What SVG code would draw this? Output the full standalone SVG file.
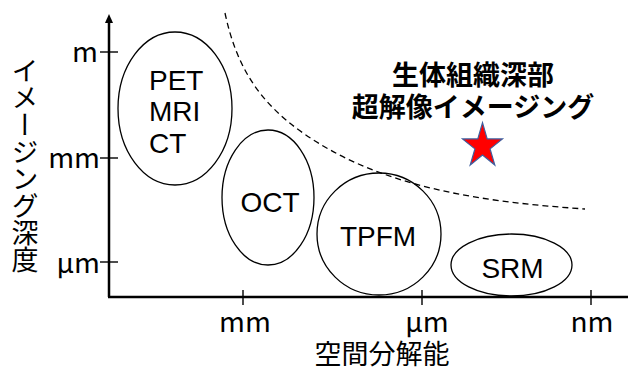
<svg xmlns="http://www.w3.org/2000/svg" width="628" height="372" viewBox="0 0 628 372">
<style>
.ax{stroke:#000;stroke-width:2.5;fill:none}
.tk{stroke:#000;stroke-width:1.4;fill:none}
.el{fill:none;stroke:#000;stroke-width:1.3}
.lab{font-family:"Liberation Sans",Arial,sans-serif;font-size:28px;fill:#000}
.tl{font-family:"Noto Sans CJK JP","Liberation Sans",sans-serif;font-size:28px;fill:#000}
.jp{font-family:"Noto Sans CJK JP",sans-serif;font-size:27px;fill:#000}
.ttl{font-family:"Noto Sans CJK JP",sans-serif;font-size:27px;font-weight:bold;fill:#000}
</style>
<rect width="628" height="372" fill="#fff"/>
<g id="axes">
<line class="ax" x1="109" y1="22" x2="109" y2="297"/>
<line class="ax" x1="108" y1="297" x2="628" y2="297"/>
<polygon points="109,14 105,23 113,23" fill="#000"/>
<line class="tk" x1="100" y1="52" x2="118" y2="52"/>
<line class="tk" x1="100" y1="158" x2="118" y2="158"/>
<line class="tk" x1="100" y1="262" x2="118" y2="262"/>
<line class="tk" x1="243" y1="290" x2="243" y2="305"/>
<line class="tk" x1="422" y1="290" x2="422" y2="305"/>
<line class="tk" x1="591" y1="290" x2="591" y2="305"/>
<text class="tl" x="98" y="62" text-anchor="end">m</text>
<text class="tl" x="100" y="168" text-anchor="end">mm</text>
<text class="tl" x="100" y="273" text-anchor="end">μm</text>
<text class="tl" x="245" y="332" text-anchor="middle">mm</text>
<text class="tl" x="427" y="332" text-anchor="middle">μm</text>
<text class="tl" x="592" y="332" text-anchor="middle">nm</text>
<text class="jp" x="382" y="364" text-anchor="middle" font-size="28">空間分解能</text>
<text class="jp" x="25" y="57" style="writing-mode:vertical-rl" writing-mode="tb">イメージング深度</text>
</g>
<g id="boundary">
<path d="M225,13 C236,65 258,101.5 303,133 C383,189 485,202 585,209" fill="none" stroke="#000" stroke-width="1.3" stroke-dasharray="6,4"/>
</g>
<g id="node-pet">
<ellipse class="el" cx="175" cy="108.5" rx="57" ry="76.5"/>
<text class="lab" x="149" y="90">PET</text>
<text class="lab" x="149" y="121">MRI</text>
<text class="lab" x="149" y="153">CT</text>
</g>
<g id="node-oct">
<ellipse class="el" cx="268" cy="197.5" rx="46" ry="67.5"/>
<text class="lab" x="270" y="212" text-anchor="middle">OCT</text>
</g>
<g id="node-tpfm">
<ellipse class="el" cx="379" cy="234" rx="62" ry="61"/>
<text class="lab" x="378" y="246" text-anchor="middle">TPFM</text>
</g>
<g id="node-srm">
<ellipse class="el" cx="511.5" cy="265" rx="60.5" ry="31"/>
<text class="lab" x="512.5" y="278" text-anchor="middle">SRM</text>
</g>
<g id="target">
<text class="ttl" x="473" y="85" text-anchor="middle">生体組織深部</text>
<text class="ttl" x="473" y="117" text-anchor="middle">超解像イメージング</text>
<polygon points="482.5,122.7 487.2,138.9 502.5,138.9 490.1,148.9 494.8,165 482.5,155 470.2,165 474.9,148.9 462.5,138.9 477.8,138.9" fill="#ff0000" stroke="#3f5f9f" stroke-width="1.2" stroke-linejoin="miter"/>
</g>
</svg>
